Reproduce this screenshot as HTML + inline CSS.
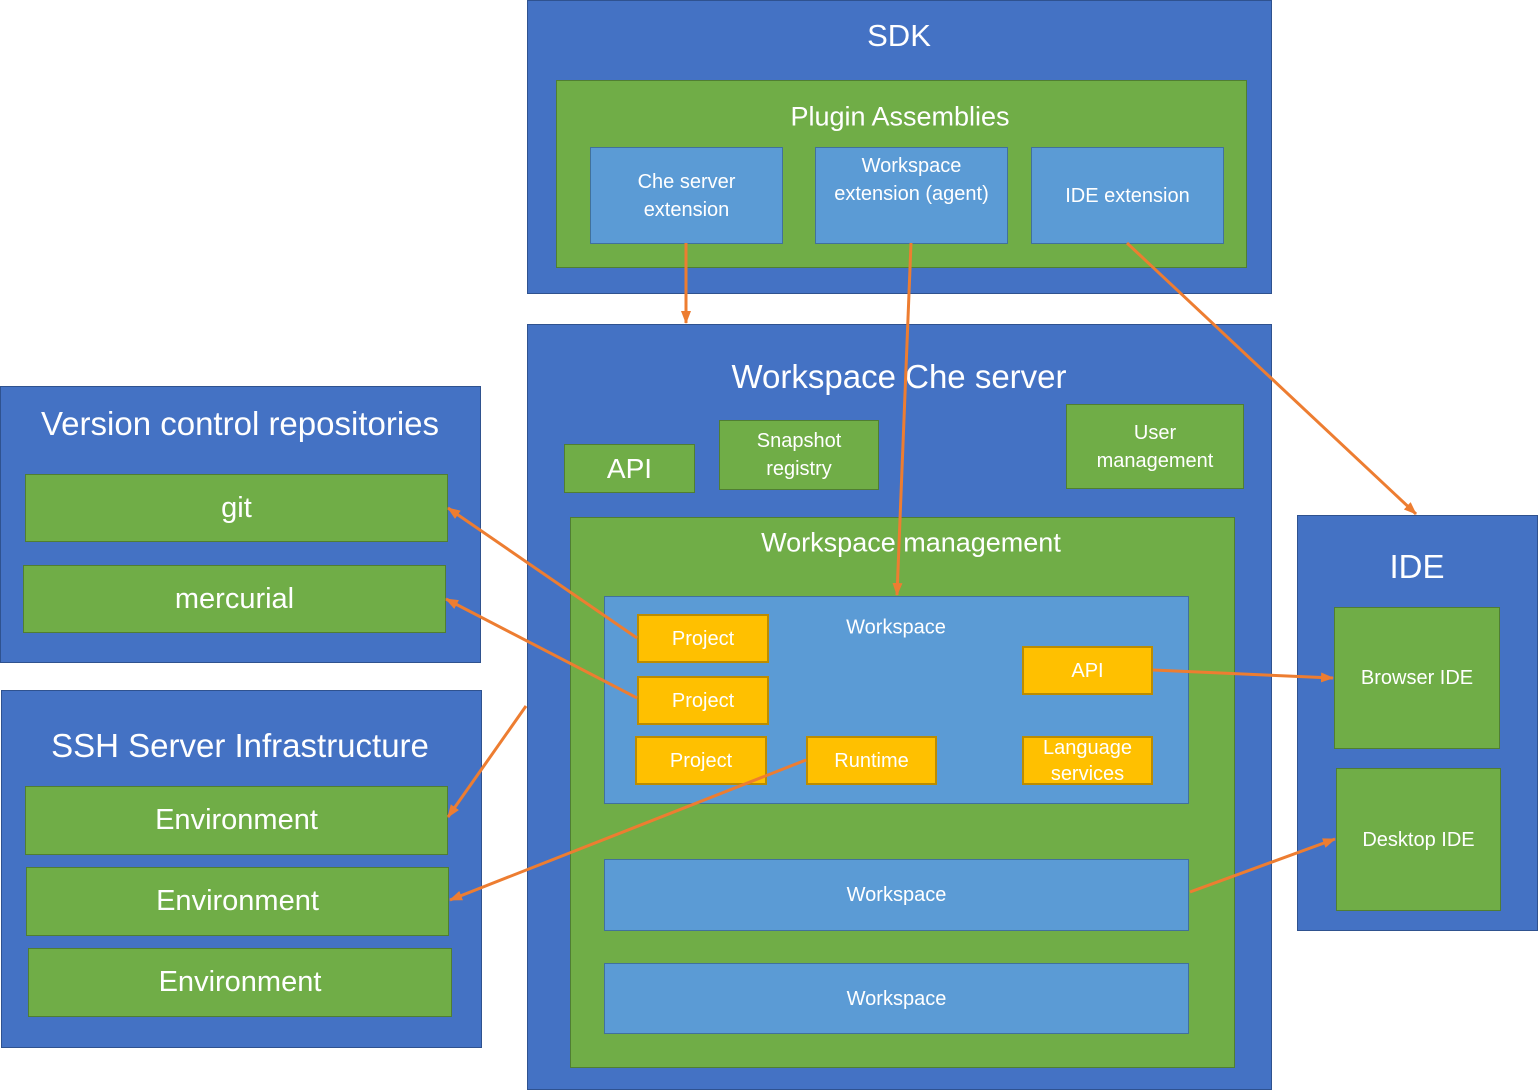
<!DOCTYPE html>
<html><head><meta charset="utf-8"><style>
html,body{margin:0;padding:0;background:#fff;}
body{width:1538px;height:1090px;position:relative;overflow:hidden;font-family:"Liberation Sans","DejaVu Sans",sans-serif;color:#fff;}
.b{position:absolute;box-sizing:border-box;display:flex;align-items:center;justify-content:center;text-align:center;line-height:1.4;}
.db{background:#4472C4;border:1px solid #2F528F;}
.g{background:#70AD47;border:1px solid #507E32;}
.lb{background:#5B9BD5;border:1px solid #41719C;}
.y{background:#FFC000;border:2px solid #BC8C00;}
.t{position:absolute;text-align:center;white-space:nowrap;transform:translate(-50%,-50%);}
svg{position:absolute;left:0;top:0;}
</style></head><body>
<div class="b db" style="left:527px;top:0;width:745px;height:294px"></div>
<div class="t" style="left:899px;top:36px;font-size:31px">SDK</div>
<div class="b g" style="left:556px;top:80px;width:691px;height:188px"></div>
<div class="t" style="left:900px;top:117px;font-size:27px">Plugin Assemblies</div>
<div class="b lb" style="left:590px;top:147px;width:193px;height:97px;font-size:20px">Che server<br>extension</div>
<div class="b lb" style="left:815px;top:147px;width:193px;height:97px;font-size:20px;align-items:flex-start;padding-top:4px">Workspace<br>extension (agent)</div>
<div class="b lb" style="left:1031px;top:147px;width:193px;height:97px;font-size:20px">IDE extension</div>

<div class="b db" style="left:527px;top:324px;width:745px;height:766px"></div>
<div class="t" style="left:899px;top:377px;font-size:33px">Workspace Che server</div>
<div class="b g" style="left:564px;top:444px;width:131px;height:49px;font-size:28px">API</div>
<div class="b g" style="left:719px;top:420px;width:160px;height:70px;font-size:20px">Snapshot<br>registry</div>
<div class="b g" style="left:1066px;top:404px;width:178px;height:85px;font-size:20px">User<br>management</div>
<div class="b g" style="left:570px;top:517px;width:665px;height:551px"></div>
<div class="t" style="left:911px;top:543px;font-size:27px">Workspace management</div>
<div class="b lb" style="left:604px;top:596px;width:585px;height:208px"></div>
<div class="t" style="left:896px;top:628px;font-size:20px">Workspace</div>
<div class="b y" style="left:637px;top:614px;width:132px;height:49px;font-size:20px">Project</div>
<div class="b y" style="left:637px;top:676px;width:132px;height:49px;font-size:20px">Project</div>
<div class="b y" style="left:635px;top:736px;width:132px;height:49px;font-size:20px">Project</div>
<div class="b y" style="left:806px;top:736px;width:131px;height:49px;font-size:20px">Runtime</div>
<div class="b y" style="left:1022px;top:646px;width:131px;height:49px;font-size:20px">API</div>
<div class="b y" style="left:1022px;top:736px;width:131px;height:49px;font-size:20px;line-height:1.3">Language<br>services</div>
<div class="b lb" style="left:604px;top:859px;width:585px;height:72px;font-size:20px">Workspace</div>
<div class="b lb" style="left:604px;top:963px;width:585px;height:71px;font-size:20px">Workspace</div>

<div class="b db" style="left:0;top:386px;width:481px;height:277px"></div>
<div class="t" style="left:240px;top:424px;font-size:33px">Version control repositories</div>
<div class="b g" style="left:25px;top:474px;width:423px;height:68px;font-size:29px">git</div>
<div class="b g" style="left:23px;top:565px;width:423px;height:68px;font-size:29px">mercurial</div>

<div class="b db" style="left:1px;top:690px;width:481px;height:358px"></div>
<div class="t" style="left:240px;top:746px;font-size:33px">SSH Server Infrastructure</div>
<div class="b g" style="left:25px;top:786px;width:423px;height:69px;font-size:29px">Environment</div>
<div class="b g" style="left:26px;top:867px;width:423px;height:69px;font-size:29px">Environment</div>
<div class="b g" style="left:28px;top:948px;width:424px;height:69px;font-size:29px">Environment</div>

<div class="b db" style="left:1297px;top:515px;width:241px;height:416px"></div>
<div class="t" style="left:1417px;top:567px;font-size:33px">IDE</div>
<div class="b g" style="left:1334px;top:607px;width:166px;height:142px;font-size:20px">Browser IDE</div>
<div class="b g" style="left:1336px;top:768px;width:165px;height:143px;font-size:20px">Desktop IDE</div>

<svg width="1538" height="1090">
<defs><marker id="a" markerWidth="13" markerHeight="10" refX="12" refY="5" orient="auto" markerUnits="userSpaceOnUse"><path d="M0,0 L13,5 L0,10 z" fill="#ED7D31"/></marker></defs>
<g stroke="#ED7D31" stroke-width="3" fill="none" marker-end="url(#a)">
<line x1="686" y1="243" x2="686" y2="323"/>
<line x1="911" y1="243" x2="897" y2="595"/>
<line x1="1127" y1="243" x2="1416" y2="514"/>
<line x1="637" y1="638" x2="448" y2="508"/>
<line x1="637" y1="698" x2="446" y2="599"/>
<line x1="526" y1="706" x2="448" y2="817"/>
<line x1="806" y1="760" x2="450" y2="900"/>
<line x1="1153" y1="670" x2="1333" y2="678"/>
<line x1="1190" y1="892" x2="1335" y2="839"/>
</g></svg>
</body></html>
